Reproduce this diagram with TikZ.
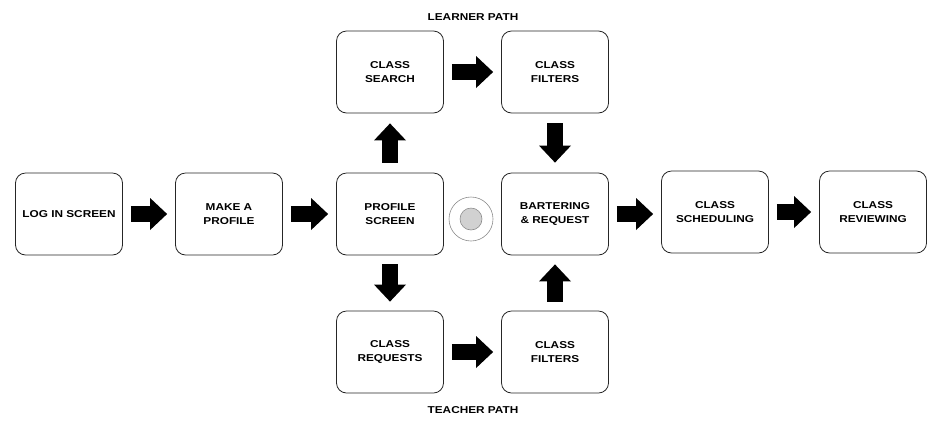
\documentclass[tikz,border=0pt]{standalone}
\usepackage{fontspec}
\newfontfamily\boxfont[FakeStretch=1.18]{Liberation Sans}
\usetikzlibrary{arrows.meta}
\tikzset{
  box/.style={draw=black!85, line width=0.8pt, rounded corners=10pt, minimum width=107pt, minimum height=82pt, align=center, font=\boxfont\bfseries\fontsize{10pt}{13.5pt}\selectfont},
  pathlabel/.style={font=\boxfont\bfseries\fontsize{10pt}{13.5pt}\selectfont},
  flow/.style={line width=16pt, -{Triangle[width=32pt 0 0, length=17pt 0 0, line width=0pt 0 0]}, shorten <=8pt, shorten >=8pt}
}
\begin{document}
\begin{tikzpicture}[x=1pt, y=-1pt]
\useasboundingbox (0,0) rectangle (949,440);
\node[box] (login) at (69,214){LOG IN SCREEN};
\node[box] (mkprof) at (229,214){MAKE A\\PROFILE};
\node[box] (profscr) at (390,214){PROFILE\\SCREEN};
\node[box] (search) at (390,72){CLASS\\SEARCH};
\node[box] (filtl) at (555,72){CLASS\\FILTERS};
\node[box] (barter) at (555,214){BARTERING\\\& REQUEST};
\node[box] (sched) at (715,212){CLASS\\SCHEDULING};
\node[box] (review) at (873,212){CLASS\\REVIEWING};
\node[box] (requests) at (390,352){CLASS\\REQUESTS};
\node[box] (filtt) at (555,352){CLASS\\FILTERS};
\node[pathlabel] (learner) at (473,17){LEARNER PATH};
\node[pathlabel] (teacher) at (473,410){TEACHER PATH};
% centre mark
\node[circle, draw=black!45, line width=0.6pt, minimum size=44pt, inner sep=0pt] (hub) at (471,219){};
\node[circle, draw=black!45, fill=black!18, line width=0.6pt, minimum size=22pt, inner sep=0pt] (hubdot) at (hub.center){};
% main line
\draw[flow](login) -- (mkprof);
\draw[flow](mkprof) -- (profscr);
\draw[flow](barter.east) -- (barter.east -| sched.west);
\draw[flow](sched) -- (review);
% learner path
\draw[flow, shorten <=10pt, shorten >=10pt](profscr) -- (search);
\draw[flow](search) -- (filtl);
\draw[flow, shorten <=10pt, shorten >=10pt](filtl) -- (barter);
% teacher path
\draw[flow, shorten <=9pt, shorten >=9pt](profscr) -- (requests);
\draw[flow](requests) -- (filtt);
\draw[flow, shorten <=9pt, shorten >=9pt](filtt) -- (barter);
\end{tikzpicture}
\end{document}
